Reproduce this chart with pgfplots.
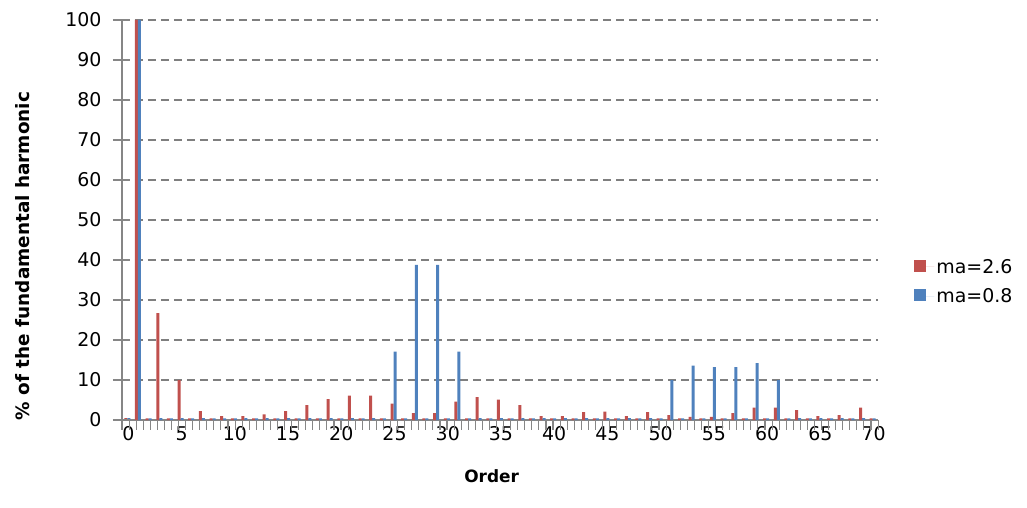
\documentclass[border=0pt]{standalone}
\usepackage{fontspec}
\setmainfont{DejaVu Sans}
\usepackage{pgfplots}
\usepackage{pgfplotstable}
\pgfplotsset{compat=1.18}
\definecolor{serA}{HTML}{C0504D}
\definecolor{serB}{HTML}{4F81BD}
\definecolor{axisgray}{HTML}{868686}
\definecolor{gridgray}{HTML}{7F7F7F}

\pgfplotstableread{
order red blue
0 0.5 0.5
1 100 100
2 0.4 0.4
3 26.7 0.5
4 0.4 0.4
5 10.0 0.5
6 0.4 0.4
7 2.2 0.5
8 0.4 0.4
9 1.0 0.4
10 0.4 0.4
11 1.0 0.5
12 0.4 0.4
13 1.4 0.5
14 0.4 0.4
15 2.2 0.5
16 0.4 0.4
17 3.75 0.5
18 0.4 0.4
19 5.2 0.5
20 0.4 0.4
21 6.1 0.5
22 0.4 0.4
23 6.1 0.5
24 0.4 0.4
25 4.1 17.1
26 0.4 0.4
27 1.7 38.8
28 0.4 0.4
29 1.7 38.8
30 0.4 0.4
31 4.6 17.1
32 0.4 0.4
33 5.7 0.5
34 0.4 0.4
35 5.1 0.5
36 0.4 0.4
37 3.75 0.5
38 0.4 0.4
39 1.0 0.5
40 0.4 0.4
41 1.0 0.5
42 0.4 0.4
43 2.0 0.5
44 0.4 0.4
45 2.1 0.5
46 0.4 0.4
47 1.0 0.5
48 0.4 0.4
49 2.0 0.5
50 0.4 0.4
51 1.2 10.0
52 0.4 0.4
53 0.8 13.6
54 0.4 0.4
55 0.8 13.2
56 0.4 0.4
57 1.7 13.2
58 0.4 0.4
59 3.1 14.2
60 0.4 0.4
61 3.1 10.0
62 0.4 0.4
63 2.5 0.5
64 0.4 0.4
65 1.0 0.5
66 0.4 0.4
67 1.2 0.5
68 0.4 0.4
69 3.1 0.5
70 0.4 0.4
}\datatable

\begin{document}
\begin{tikzpicture}
\path[use as bounding box] (-122bp,-88bp) rectangle (905bp,420bp);
\begin{axis}[
  at={(0,0)}, anchor=south west,
  scale only axis, width=756bp, height=400bp,
  xmin=-0.5, xmax=70.5, ymin=0, ymax=100,
  clip=false,
  ybar=0pt, bar width=3bp,
  axis lines*=left,
  axis line style={draw=axisgray, line width=1.2bp},
  xtick={0,5,...,70},
  ytick={0,10,...,100},
  major tick length=0bp,
  ymajorgrids,
  major grid style={draw=gridgray, dash pattern=on 8bp off 5bp, line width=1.2bp},
  /pgf/number format/assume math mode=true,
  tick label style={font=\fontsize{19}{21}\selectfont, text=black},
  xticklabel style={yshift=-3bp, xshift=1bp},
  yticklabel style={xshift=-17bp},
  xlabel={Order},
  ylabel={\% of the fundamental harmonic},
  xlabel style={font=\fontsize{17}{20}\selectfont\bfseries,
    at={(axis description cs:0.489,-0.14)}, anchor=center},
  ylabel style={font=\fontsize{18.5}{20}\selectfont\bfseries,
    at={(axis description cs:-0.132,0.41)}, anchor=center},
  legend style={draw=none, fill=none, font=\fontsize{19}{21}\selectfont,
    at={(axis description cs:1.044,0.4125)}, anchor=north west,
    row sep=10bp, legend cell align=left},
]
\addplot[fill=serA, draw=none,
  legend image code/.code={\fill[serA] (0bp,-5bp) rectangle (12bp,7bp);
    \path (0bp,0bp) -- (20bp,0bp);}]
  table[x=order, y=red] {\datatable};
\addlegendentry{ma=2.6}
\addplot[fill=serB, draw=none,
  legend image code/.code={\fill[serB] (0bp,-5bp) rectangle (12bp,7bp);
    \path (0bp,0bp) -- (20bp,0bp);}]
  table[x=order, y=blue] {\datatable};
\addlegendentry{ma=0.8}
\pgfplotsinvokeforeach{0,10,...,100}{
  \draw[axisgray, line width=1.4bp] (axis cs:-1.35,#1) -- (axis cs:0.25,#1);
}
\pgfplotsinvokeforeach{-0.5,0.1636,...,70.6}{
  \draw[axisgray, line width=1.1bp] (axis cs:#1,0) -- ([yshift=-10bp]axis cs:#1,0);
}
\end{axis}
\end{tikzpicture}
\end{document}
